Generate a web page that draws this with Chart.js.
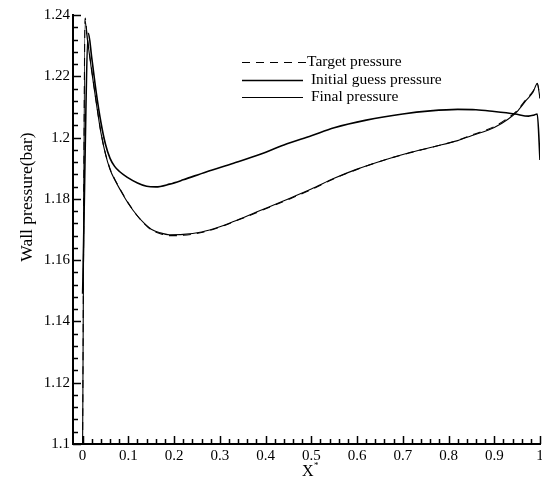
<!DOCTYPE html>
<html>
<head>
<meta charset="utf-8">
<script src="https://cdn.jsdelivr.net/npm/chart.js@4.4.1/dist/chart.umd.min.js"></script>
<style>
html,body{margin:0;padding:0;background:#fff;}
#wrap{width:542px;height:477px;}
</style>
</head>
<body>
<div id="wrap"><canvas id="c" width="542" height="477"></canvas></div>
<script>
// ---- data ----
const xLower = [0, 0.0055, 0.01, 0.02, 0.03, 0.04, 0.05, 0.06, 0.07, 0.082, 0.1, 0.12, 0.135, 0.15, 0.17, 0.19, 0.22, 0.26, 0.3, 0.33, 0.38, 0.44, 0.5, 0.55, 0.6, 0.66, 0.71, 0.77, 0.82, 0.85, 0.9, 0.93, 0.95, 0.97, 0.985, 0.994, 1.0];
const targetPressure = [1.100, 1.239, 1.233, 1.222, 1.2115, 1.2018, 1.1948, 1.1898, 1.1865, 1.1832, 1.1786, 1.1744, 1.1719, 1.1699, 1.1686, 1.1680, 1.1681, 1.1690, 1.1708, 1.1725, 1.1755, 1.1792, 1.1830, 1.1866, 1.1896, 1.1927, 1.1948, 1.1971, 1.1991, 1.2008, 1.2036, 1.2064, 1.2088, 1.2125, 1.2152, 1.2177, 1.2128];
const finalPressure  = [1.100, 1.238, 1.2325, 1.2215, 1.2112, 1.2016, 1.1946, 1.1896, 1.1863, 1.1830, 1.1785, 1.1744, 1.1720, 1.1701, 1.1689, 1.1683, 1.1684, 1.1692, 1.1709, 1.1726, 1.1757, 1.1794, 1.1832, 1.1867, 1.1897, 1.1927, 1.1949, 1.1971, 1.1990, 1.2006, 1.2033, 1.2060, 1.2085, 1.2122, 1.2149, 1.2176, 1.2128];
const xUpper = [0, 0.0127, 0.02, 0.03, 0.04, 0.05, 0.06, 0.07, 0.08, 0.097, 0.12, 0.14, 0.16, 0.19, 0.22, 0.27, 0.33, 0.39, 0.44, 0.5, 0.55, 0.62, 0.7, 0.76, 0.82, 0.86, 0.9, 0.945, 0.975, 0.986, 0.994, 1.0];
const initialPressure = [1.149, 1.234, 1.226, 1.2145, 1.2050, 1.1978, 1.1932, 1.1906, 1.1890, 1.1871, 1.1852, 1.1841, 1.1839, 1.1848, 1.1862, 1.1888, 1.1916, 1.1946, 1.1976, 1.2006, 1.2032, 1.2057, 1.2077, 1.2087, 1.2092, 1.2091, 1.2085, 1.2077, 1.2070, 1.2073, 1.2077, 1.1927];
const xTicks = [0, 0.1, 0.2, 0.3, 0.4, 0.5, 0.6, 0.7, 0.8, 0.9, 1];
const yTicks = [1.1, 1.12, 1.14, 1.16, 1.18, 1.2, 1.22, 1.24];
const seriesNames = ['Target pressure', ' Initial guess pressure', ' Final pressure'];
const yTitle = 'Wall pressure(bar)';

const FONT = '"Liberation Serif", "Times New Roman", serif';
const pts = (xs, ys) => xs.map((x, i) => ({x: x, y: ys[i]}));

const axisDeco = {
  id: 'axisDeco',
  afterDraw(chart) {
    const ctx = chart.ctx;
    const xs = chart.scales.x, ys = chart.scales.y;
    const area = chart.chartArea;
    ctx.save();
    ctx.strokeStyle = '#000';
    ctx.lineWidth = 1.5;
    ctx.beginPath();
    for (let i = 0; i <= 50; i++) {
      const v = i * 0.02;
      const px = Math.round(xs.getPixelForValue(v)) + 0.5;
      const len = (i % 5 === 0) ? 8 : 5;
      ctx.moveTo(px, area.bottom);
      ctx.lineTo(px, area.bottom - len);
    }
    for (let i = 0; i <= 35; i++) {
      const v = 1.1 + i * 0.004;
      const py = Math.round(ys.getPixelForValue(v)) + 0.5;
      const len = (i % 5 === 0) ? 8 : 5;
      ctx.moveTo(area.left, py);
      ctx.lineTo(area.left + len, py);
    }
    ctx.stroke();

    ctx.fillStyle = '#000';
    // x axis title X*
    ctx.textBaseline = 'alphabetic';
    ctx.textAlign = 'left';
    ctx.font = '16px ' + FONT;
    ctx.fillText('X', 302, 476);
    ctx.font = '9px ' + FONT;
    ctx.fillText('*', 314, 468);

    // y axis title
    ctx.save();
    ctx.translate(27, 197);
    ctx.rotate(-Math.PI / 2);
    ctx.textAlign = 'center';
    ctx.textBaseline = 'middle';
    ctx.font = '17.5px ' + FONT;
    ctx.fillText(yTitle, 0, 0);
    ctx.restore();

    // legend
    const ds = chart.data.datasets;
    const rows = [62, 79.5, 97];
    const lx0 = 242, lx1 = [306, 303, 303];
    ctx.font = '15.5px ' + FONT;
    ctx.textAlign = 'left';
    ctx.textBaseline = 'middle';
    for (let i = 0; i < ds.length; i++) {
      ctx.beginPath();
      ctx.lineWidth = ds[i].borderWidth;
      ctx.setLineDash(ds[i].borderDash || []);
      ctx.moveTo(lx0, Math.round(rows[i]) + 0.5);
      ctx.lineTo(lx1[i], Math.round(rows[i]) + 0.5);
      ctx.stroke();
      ctx.setLineDash([]);
      ctx.fillText(ds[i].label, 307, rows[i]);
    }
    ctx.restore();
  }
};

new Chart(document.getElementById('c'), {
  type: 'scatter',
  data: {
    datasets: [
      {label: seriesNames[0], data: pts(xLower, targetPressure), showLine: true, borderColor: '#000', borderWidth: 1.1, borderDash: [8, 6], pointRadius: 0, cubicInterpolationMode: 'monotone', fill: false},
      {label: seriesNames[1], data: pts(xUpper, initialPressure), showLine: true, borderColor: '#000', borderWidth: 1.6, pointRadius: 0, cubicInterpolationMode: 'monotone', fill: false},
      {label: seriesNames[2], data: pts(xLower, finalPressure), showLine: true, borderColor: '#000', borderWidth: 1.1, pointRadius: 0, cubicInterpolationMode: 'monotone', fill: false}
    ]
  },
  options: {
    responsive: false,
    animation: false,
    devicePixelRatio: 1,
    layout: {padding: {left: 0, right: 2, top: 15, bottom: 0}},
    plugins: {legend: {display: false}, tooltip: {enabled: false}},
    scales: {
      x: {
        type: 'linear', min: -0.021, max: 1,
        afterBuildTicks: s => { s.ticks = xTicks.map(v => ({value: v})); },
        afterFit: s => { s.height = 33; s.paddingLeft = 0; s.paddingRight = 0; },
        grid: {display: false, drawTicks: false},
        border: {display: true, color: '#000', width: 2},
        ticks: {color: '#000', font: {family: FONT, size: 15}, padding: 3, maxRotation: 0, autoSkip: false,
          callback: v => String(Number(v.toFixed(2)))}
      },
      y: {
        type: 'linear', min: 1.1, max: 1.24,
        afterBuildTicks: s => { s.ticks = yTicks.map(v => ({value: v})); },
        afterFit: s => { s.width = 73; s.paddingTop = 0; s.paddingBottom = 0; },
        grid: {display: false, drawTicks: false},
        border: {display: true, color: '#000', width: 2},
        ticks: {color: '#000', font: {family: FONT, size: 15}, padding: 3, autoSkip: false,
          callback: v => String(Number(v.toFixed(2)))}
      }
    }
  },
  plugins: [axisDeco]
});
</script>
</body>
</html>
